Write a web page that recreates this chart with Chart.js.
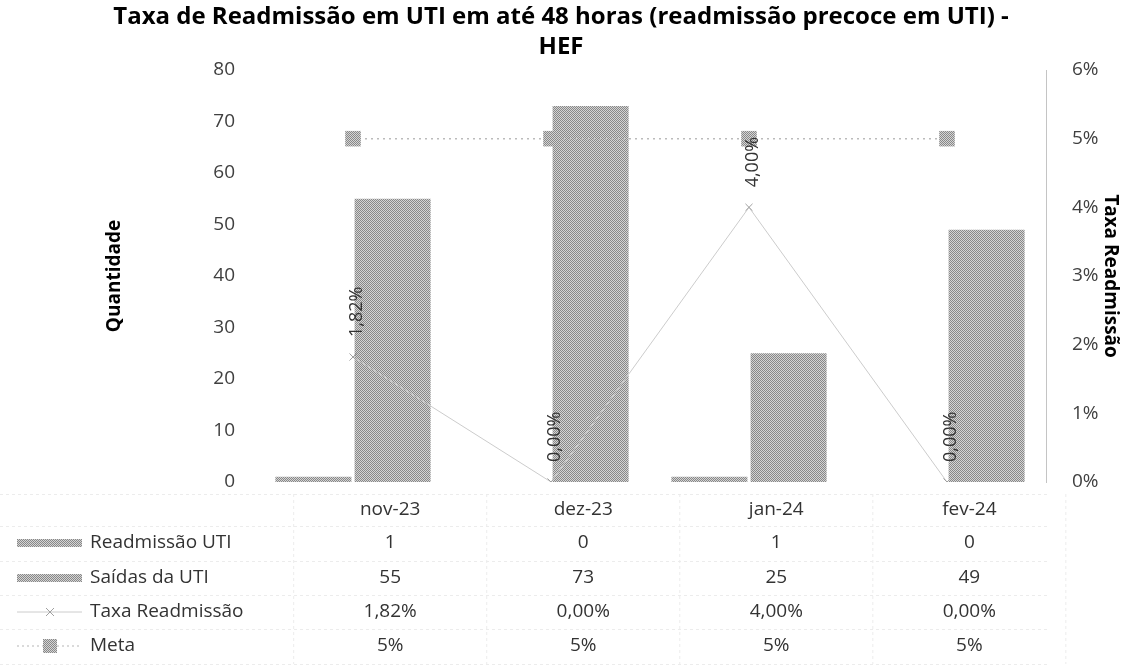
<!DOCTYPE html>
<html>
<head>
<meta charset="utf-8">
<script src="https://cdn.jsdelivr.net/npm/chart.js@4/dist/chart.umd.min.js"></script>
<style>
  html, body { margin: 0; padding: 0; background: #fff; }
  #wrap { width: 1122px; height: 668px; }
</style>
</head>
<body>
<div id="wrap"><canvas id="chart" width="1122" height="668"></canvas></div>
<script>
// data
var categories = ['nov-23', 'dez-23', 'jan-24', 'fev-24'];
var readmissao = [1, 0, 1, 0];
var saidas = [55, 73, 25, 49];
var taxa = [1.82, 0, 4, 0];
var meta = [5, 5, 5, 5];
var seriesNames = ['Readmissão UTI', 'Saídas da UTI', 'Taxa Readmissão', 'Meta'];
var leftMax = 80, leftStep = 10;
var rightMax = 6, rightStep = 1;

var FONT = "'Open Sans', Lato, sans-serif";
Chart.defaults.font.family = FONT;
Chart.defaults.color = '#404040';

var canvas = document.getElementById('chart');
var ctx = canvas.getContext('2d');

// halftone look of the scanned bars
function makePattern(){
	var c = document.createElement('canvas');
	c.width = 2; c.height = 2;
	var p = c.getContext('2d');
	p.fillStyle = '#d4d4d4';
	p.fillRect(0, 0, 2, 2);
	p.fillStyle = '#888888';
	p.fillRect(0, 0, 1, 1);
	p.fillRect(1, 1, 1, 1);
	return ctx.createPattern(c, 'repeat');
}
var barFill = makePattern();

function pct(v){ return v.toFixed(2).replace('.', ',') + '%'; }

// rotated value labels above the rate line
var rateLabels = {
	id: 'rateLabels',
	afterDatasetsDraw: function(chart){
		var c = chart.ctx;
		var pts = chart.getDatasetMeta(2).data;
		c.save();
		c.font = '18px ' + FONT;
		c.fillStyle = '#333';
		c.textAlign = 'left';
		c.textBaseline = 'middle';
		pts.forEach(function(pt, i){
			c.save();
			c.translate(pt.x + 4, pt.y - 20);
			c.rotate(-Math.PI / 2);
			c.fillText(pct(taxa[i]), 0, 0);
			c.restore();
		});
		c.restore();
	}
};

// data table under the plot (Excel style)
var dataTable = {
	id: 'dataTable',
	afterDraw: function(chart){
		var c = chart.ctx;
		var xs = chart.scales.x;
		var rows = [510, 543, 578, 612, 646];
		var values = [readmissao, saidas, taxa.map(pct), meta.map(function(v){ return v + '%'; })];
		// table columns are a bit narrower than the plot categories
		var colX = categories.map(function(_, i){ return 0.975 * xs.getPixelForValue(i) + 46; });

		c.save();
		// faint grid
		c.strokeStyle = '#ececec';
		c.lineWidth = 1;
		c.setLineDash([3, 3]);
		[494, 526, 561, 595, 629, 664].forEach(function(y){
			c.beginPath(); c.moveTo(0, y + 0.5); c.lineTo(1050, y + 0.5); c.stroke();
		});
		colX.forEach(function(x){
			c.beginPath(); c.moveTo(x - 96.5, 494); c.lineTo(x - 96.5, 664); c.stroke();
		});
		c.beginPath(); c.moveTo(colX[3] + 96.5, 494); c.lineTo(colX[3] + 96.5, 664); c.stroke();
		c.setLineDash([]);

		c.font = '19px ' + FONT;
		c.fillStyle = '#333';
		c.textBaseline = 'middle';
		c.textAlign = 'center';
		categories.forEach(function(cat, i){ c.fillText(cat, colX[i], rows[0]); });
		values.forEach(function(vals, r){
			vals.forEach(function(v, i){ c.fillText(String(v), colX[i], rows[r + 1]); });
		});

		c.textAlign = 'left';
		seriesNames.forEach(function(name, r){
			c.fillText(name, 90, rows[r + 1]);
		});

		// legend keys
		c.fillStyle = barFill;
		c.fillRect(17, rows[1] - 4, 65, 8);
		c.fillRect(17, rows[2] - 4, 65, 8);

		c.strokeStyle = '#cccccc';
		c.lineWidth = 1;
		c.beginPath(); c.moveTo(17, rows[3]); c.lineTo(82, rows[3]); c.stroke();
		c.strokeStyle = '#a0a0a0';
		c.beginPath();
		c.moveTo(46, rows[3] - 4); c.lineTo(54, rows[3] + 4);
		c.moveTo(54, rows[3] - 4); c.lineTo(46, rows[3] + 4);
		c.stroke();

		c.strokeStyle = '#b5b5b5';
		c.setLineDash([2, 3]);
		c.beginPath(); c.moveTo(17, rows[4]); c.lineTo(82, rows[4]); c.stroke();
		c.setLineDash([]);
		c.fillStyle = barFill;
		c.fillRect(43, rows[4] - 7, 14, 14);
		c.restore();
	}
};

var chart = new Chart(ctx, {
	type: 'bar',
	data: {
		labels: categories,
		datasets: [
			{ label: seriesNames[0], data: readmissao, yAxisID: 'y', backgroundColor: barFill, order: 2,
			  categoryPercentage: 0.8, barPercentage: 0.96 },
			{ label: seriesNames[1], data: saidas, yAxisID: 'y', backgroundColor: barFill, order: 2,
			  categoryPercentage: 0.8, barPercentage: 0.96 },
			{ type: 'line', label: seriesNames[2], data: taxa, yAxisID: 'y1', order: 0,
			  borderColor: '#cccccc', borderWidth: 1, pointStyle: 'crossRot', pointRadius: 5,
			  pointBorderColor: '#a0a0a0', pointBorderWidth: 1, tension: 0 },
			{ type: 'line', label: seriesNames[3], data: meta, yAxisID: 'y1', order: 1,
			  borderColor: '#bbbbbb', borderWidth: 1.5, borderDash: [2, 4], pointStyle: 'rect',
			  pointRadius: 11, pointBackgroundColor: barFill, pointBorderWidth: 0 }
		]
	},
	options: {
		responsive: false,
		animation: false,
		layout: { padding: { left: 0, right: 0, top: 0, bottom: 186 } },
		plugins: {
			legend: { display: false },
			tooltip: { enabled: false },
			title: {
				display: true,
				text: ['Taxa de Readmissão em UTI em até 48 horas (readmissão precoce em UTI) -', 'HEF'],
				color: '#000',
				font: { size: 24, weight: 'bold', lineHeight: 1.25 },
				padding: { top: 2, bottom: 8 }
			}
		},
		scales: {
			x: { display: false },
			y: {
				position: 'left',
				min: 0, max: leftMax,
				ticks: { stepSize: leftStep, padding: 11, font: { size: 19 } },
				grid: { display: false },
				border: { display: false },
				title: { display: true, text: 'Quantidade', color: '#000', font: { size: 19, weight: 'bold' },
					padding: { top: 103, bottom: 4 } },
				afterFit: function(s){ s.width = 254; }
			},
			y1: {
				position: 'right',
				min: 0, max: rightMax,
				ticks: { stepSize: rightStep, padding: 18, font: { size: 19 },
					callback: function(v){ return v + '%'; } },
				grid: { display: false },
				border: { display: true, color: '#c4c4c4', dash: [1, 1] },
				title: { display: true, text: 'Taxa Readmissão', color: '#000', font: { size: 19, weight: 'bold' },
					padding: { top: 0, bottom: 0 } },
				afterFit: function(s){ s.width = 76; }
			}
		}
	},
	plugins: [rateLabels, dataTable]
});
</script>
</body>
</html>
